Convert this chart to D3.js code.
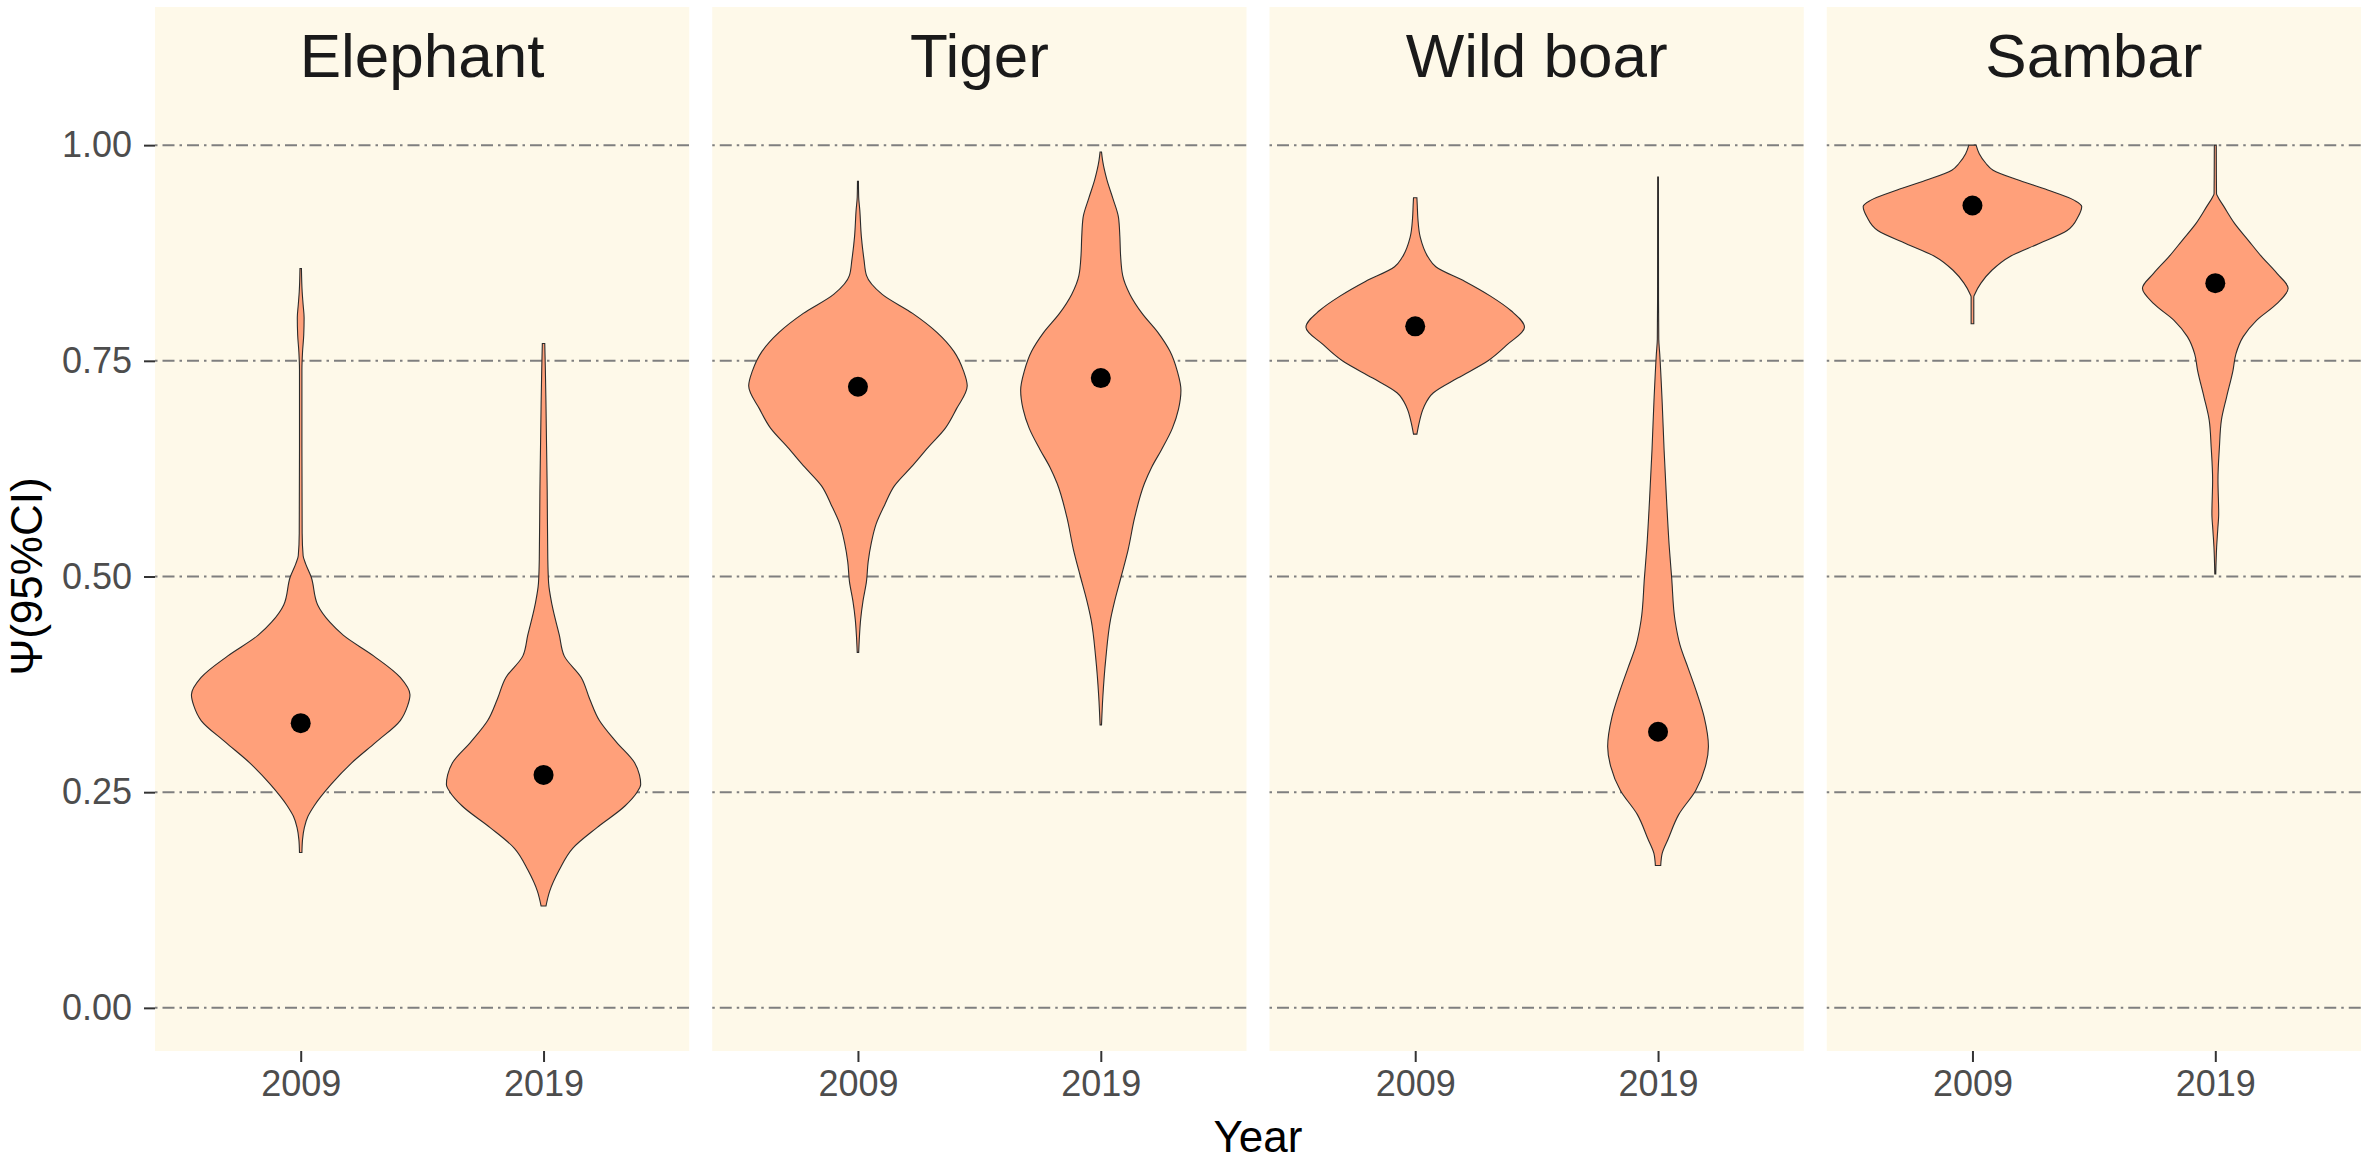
<!DOCTYPE html>
<html>
<head>
<meta charset="utf-8">
<script src="https://cdn.jsdelivr.net/npm/d3@7"></script>
<style>
  body { margin: 0; background: #fff; }
  svg { display: block; font-family: "Liberation Sans", Arial, sans-serif; }
</style>
</head>
<body>
<div id="chart"></div>
<script>
// --- data ---
const species = ["Elephant", "Tiger", "Wild boar", "Sambar"];
const years = ["2009", "2019"];
const yTicks = [0, 0.25, 0.5, 0.75, 1];
const yTickLabels = ["0.00", "0.25", "0.50", "0.75", "1.00"];

// point estimate of psi per species, [2009, 2019]
const pointPsi = [[0.33, 0.27], [0.72, 0.73], [0.79, 0.32], [0.93, 0.84]];

// violin outlines: [psi, full width in x units]
const elephant2009 = [[0.180,0.01],[0.195,0.015],[0.209,0.03],[0.222,0.06],[0.234,0.11],[0.259,0.25],[0.284,0.42],[0.308,0.62],[0.333,0.82],[0.350,0.88],[0.363,0.90],[0.383,0.82],[0.408,0.60],[0.432,0.35],[0.447,0.24],[0.467,0.14],[0.500,0.085],[0.515,0.04],[0.524,0.02],[0.550,0.012],[0.650,0.01],[0.740,0.01],[0.760,0.015],[0.780,0.025],[0.800,0.028],[0.815,0.02],[0.830,0.012],[0.857,0.006]];
const elephant2019 = [[0.118,0.02],[0.135,0.05],[0.160,0.13],[0.185,0.24],[0.209,0.44],[0.234,0.67],[0.250,0.77],[0.259,0.80],[0.270,0.79],[0.284,0.75],[0.308,0.60],[0.333,0.46],[0.358,0.38],[0.383,0.31],[0.408,0.17],[0.432,0.13],[0.467,0.07],[0.492,0.042],[0.520,0.035],[0.600,0.03],[0.650,0.025],[0.700,0.02],[0.740,0.015],[0.770,0.01]];
const tiger2009 = [[0.412,0.006],[0.430,0.012],[0.450,0.022],[0.472,0.042],[0.494,0.07],[0.517,0.084],[0.539,0.11],[0.561,0.15],[0.583,0.22],[0.605,0.30],[0.627,0.44],[0.650,0.58],[0.672,0.72],[0.694,0.81],[0.721,0.90],[0.738,0.87],[0.761,0.79],[0.783,0.65],[0.805,0.45],[0.827,0.20],[0.849,0.07],[0.867,0.05],[0.894,0.028],[0.925,0.015],[0.940,0.006],[0.958,0.004]];
const tiger2019 = [[0.328,0.006],[0.361,0.017],[0.406,0.042],[0.450,0.08],[0.472,0.115],[0.500,0.168],[0.531,0.225],[0.569,0.28],[0.608,0.36],[0.627,0.42],[0.647,0.50],[0.672,0.59],[0.694,0.64],[0.716,0.66],[0.738,0.63],[0.761,0.57],[0.783,0.47],[0.805,0.34],[0.827,0.24],[0.849,0.18],[0.872,0.163],[0.894,0.157],[0.916,0.146],[0.938,0.10],[0.960,0.05],[0.982,0.015],[0.992,0.006]];
const wildboar2009 = [[0.665,0.014],[0.679,0.034],[0.696,0.07],[0.713,0.15],[0.730,0.35],[0.750,0.60],[0.769,0.76],[0.789,0.90],[0.808,0.79],[0.825,0.62],[0.842,0.41],[0.859,0.17],[0.870,0.107],[0.893,0.042],[0.915,0.022],[0.930,0.017],[0.939,0.014]];
const wildboar2019 = [[0.165,0.022],[0.179,0.034],[0.196,0.084],[0.224,0.17],[0.252,0.31],[0.280,0.39],[0.303,0.415],[0.337,0.38],[0.365,0.32],[0.393,0.25],[0.421,0.18],[0.449,0.14],[0.499,0.112],[0.533,0.093],[0.589,0.07],[0.646,0.05],[0.702,0.034],[0.758,0.014],[0.775,0.006],[0.820,0.004],[0.963,0.003]];
const sambar2009 = [[0.793,0.011],[0.824,0.011],[0.828,0.022],[0.840,0.07],[0.855,0.16],[0.871,0.31],[0.886,0.55],[0.901,0.78],[0.917,0.87],[0.929,0.90],[0.936,0.84],[0.948,0.62],[0.959,0.39],[0.971,0.17],[0.979,0.11],[0.990,0.056],[1.000,0.03]];
const sambar2019 = [[0.503,0.004],[0.534,0.011],[0.554,0.02],[0.573,0.028],[0.612,0.022],[0.650,0.034],[0.681,0.05],[0.708,0.093],[0.739,0.146],[0.758,0.17],[0.778,0.23],[0.797,0.34],[0.816,0.505],[0.834,0.60],[0.851,0.51],[0.871,0.38],[0.890,0.27],[0.909,0.16],[0.929,0.07],[0.940,0.022],[0.944,0.01],[1.000,0.008]];

const violins = [
    [elephant2009, elephant2019],
    [tiger2009, tiger2019],
    [wildboar2009, wildboar2019],
    [sambar2009, sambar2019]
];

// --- layout ---
const width = 2363, height = 1160;
const plotLeft = 155, plotRight = 2361;
const panelGap = 23;
const panelW = (plotRight - plotLeft - panelGap * (species.length - 1)) / species.length;
const stripTop = 7, panelTop = 102, panelBottom = 1051;

const bg = "#fef9e9";
const gridColor = "#7f7f7f";

const svg = d3.select("#chart").append("svg")
    .attr("width", width)
    .attr("height", height)
    .attr("viewBox", [0, 0, width, height]);

svg.append("rect").attr("width", width).attr("height", height).attr("fill", "#fff");

const y = d3.scaleLinear().domain([-0.05, 1.05]).range([panelBottom, panelTop]);
// discrete x positions 1..n with ggplot's 0.6 expansion
const x = d3.scaleLinear().domain([0.4, years.length + 0.6]).range([0, panelW]);
const xw = d3.scaleLinear().domain([0, years.length + 0.2]).range([0, panelW]);

species.forEach((sp, si) => {
    const g = svg.append("g")
        .attr("transform", `translate(${plotLeft + si * (panelW + panelGap)},0)`);

    // strip + panel background (same colour, so they read as one block)
    g.append("rect")
        .attr("x", 0).attr("y", stripTop)
        .attr("width", panelW).attr("height", panelBottom - stripTop)
        .attr("fill", bg);

    g.append("text")
        .attr("x", panelW / 2)
        .attr("y", (stripTop + panelTop) / 2)
        .attr("dy", "0.36em")
        .attr("text-anchor", "middle")
        .attr("font-size", 62)
        .attr("fill", "#1a1a1a")
        .text(sp);

    // dot-dash grid lines
    g.append("g").selectAll("line")
        .data(yTicks)
        .join("line")
        .attr("x1", 0).attr("x2", panelW)
        .attr("y1", d => y(d)).attr("y2", d => y(d))
        .attr("stroke", gridColor)
        .attr("stroke-width", 2)
        .attr("stroke-dasharray", "2.5,5,12,5");

    // violins
    years.forEach((yr, yi) => {
        const cx = x(yi + 1);
        const area = d3.area()
            .curve(d3.curveMonotoneY)
            .y(d => y(d[0]))
            .x0(d => cx - xw(d[1]) / 2)
            .x1(d => cx + xw(d[1]) / 2);

        g.append("path")
            .datum(violins[si][yi])
            .attr("d", area)
            .attr("fill", "#ffa07a")
            .attr("stroke", "#2b2b2b")
            .attr("stroke-width", 1.1);

        g.append("circle")
            .attr("cx", cx)
            .attr("cy", y(pointPsi[si][yi]))
            .attr("r", 10)
            .attr("fill", "#000");
    });

    // x axis
    const xAxis = g.append("g")
        .attr("transform", `translate(0,${panelBottom})`)
        .call(d3.axisBottom(x).tickValues(years.map((d, i) => i + 1))
            .tickFormat((d, i) => years[i]).tickSize(11).tickPadding(8));
    xAxis.select(".domain").remove();
    xAxis.selectAll(".tick line").attr("stroke", "#333").attr("stroke-width", 2);
    xAxis.selectAll(".tick text")
        .attr("font-size", 36)
        .attr("font-family", "Liberation Sans, Arial, sans-serif")
        .attr("fill", "#4d4d4d");
});

// y axis on the first panel only
const yAxis = svg.append("g")
    .attr("transform", `translate(${plotLeft},0)`)
    .call(d3.axisLeft(y).tickValues(yTicks)
        .tickFormat((d, i) => yTickLabels[i]).tickSize(11).tickPadding(12));
yAxis.select(".domain").remove();
yAxis.selectAll(".tick line").attr("stroke", "#333").attr("stroke-width", 2);
yAxis.selectAll(".tick text")
    .attr("font-size", 36)
    .attr("font-family", "Liberation Sans, Arial, sans-serif")
    .attr("fill", "#4d4d4d");

// axis titles
svg.append("text")
    .attr("x", (plotLeft + plotRight) / 2)
    .attr("y", 1152)
    .attr("text-anchor", "middle")
    .attr("font-size", 44)
    .attr("fill", "#000")
    .text("Year");

svg.append("text")
    .attr("transform", `translate(42,${(panelTop + panelBottom) / 2}) rotate(-90)`)
    .attr("text-anchor", "middle")
    .attr("font-size", 44)
    .attr("fill", "#000")
    .text("Ψ(95%CI)");
</script>
</body>
</html>
